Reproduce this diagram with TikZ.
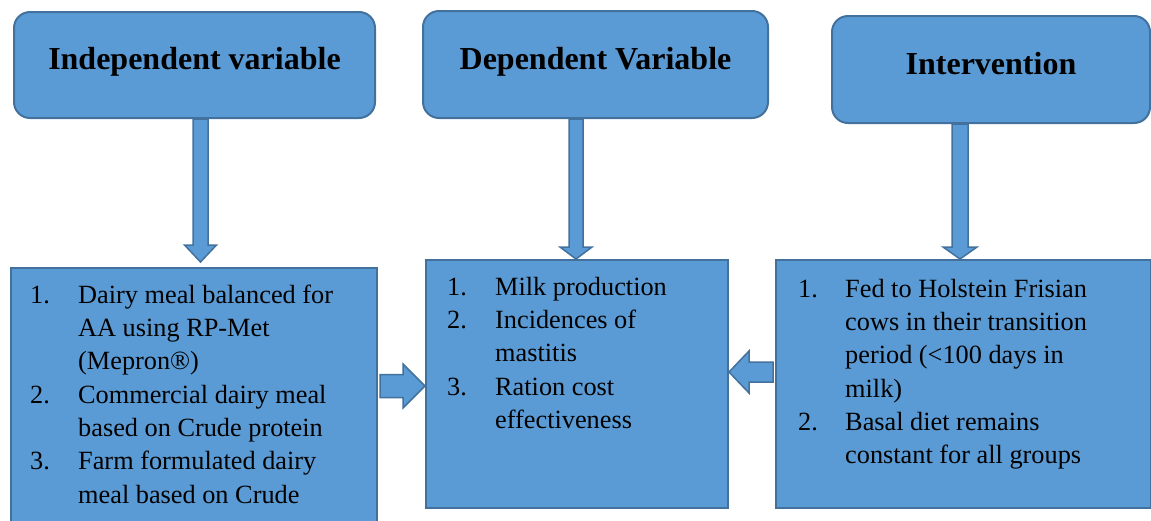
\documentclass[tikz,border=0pt]{standalone}
\usepackage{fontspec}
\setmainfont{Liberation Serif}
\usetikzlibrary{positioning,calc}

\definecolor{boxfill}{HTML}{5B9BD5}
\definecolor{boxline}{HTML}{41719C}
\newcommand{\numw}{48pt}

% vertical block arrow: from, to, shaft half width, head half width, head length
\newcommand{\vblock}[5]{%
  \draw[blockarrow] let \p1=#1, \p2=#2 in
    (\x1-#3,\y1) -- (\x1-#3,\y2+#5) -- (\x1-#4,\y2+#5) -- (\x1,\y2)
    -- (\x1+#4,\y2+#5) -- (\x1+#3,\y2+#5) -- (\x1+#3,\y1) -- cycle;}

% horizontal block arrow: from, to, shaft half width, head half width, head length
\newcommand{\hblock}[5]{%
  \draw[blockarrow] let \p1=#1, \p2=#2, \n1={sign(\x2-\x1)*#5} in
    (\x1,\y1-#3) -- ({\x2-\n1},\y1-#3) -- ({\x2-\n1},\y1-#4) -- (\x2,\y1)
    -- ({\x2-\n1},\y1+#4) -- ({\x2-\n1},\y1+#3) -- (\x1,\y1+#3) -- cycle;}

\begin{document}
\begin{tikzpicture}[
    x=1pt, y=-1pt,
    head/.style={draw=boxline, fill=boxfill, line width=2pt, rounded corners=16pt,
        font=\bfseries\fontsize{32pt}{38pt}\selectfont,
        text height=0.92em, text depth=0em},
    listbox/.style={draw=boxline, fill=boxfill, line width=2pt, anchor=north west},
    itemtext/.style={inner sep=0pt, anchor=north west, align=left,
        font=\fontsize{26.3pt}{33.3pt}\selectfont},
    blockarrow/.style={draw=boxline, fill=boxfill, line width=1.5pt, line join=miter},
]

\useasboundingbox (0,0) rectangle (1151,520);
\clip (0,0) rectangle (1151,520);

% Headings
\node[head, minimum width=361pt, minimum height=106pt] (ind) at (194.5,65) {Independent variable};
\node[head, minimum width=345pt, minimum height=107pt] (dep) at (595.5,64.5) {Dependent Variable};
\node[head, minimum width=318pt, minimum height=107pt] (intv) at (991,69.5) {Intervention};

% List boxes
\node[listbox, minimum width=366pt, minimum height=275pt] (indl) at (10,267) {};
\node[listbox, minimum width=302pt, minimum height=248pt] (depl) at (425,259) {};
\node[listbox, minimum width=375pt, minimum height=248pt] (intl) at (775,259) {};

% List texts
\node[itemtext, below right=12.7pt and 20pt of indl.north west] (indtxt) {%
\begin{tabular}{@{}p{\numw}@{}l@{}}
1. & Dairy meal balanced for\\
   & AA using RP-Met\\
   & (Mepron®)\\
2. & Commercial dairy meal\\
   & based on Crude protein\\
3. & Farm formulated dairy\\
   & meal based on Crude
\end{tabular}};
\node[itemtext, below right=12.7pt and 22pt of depl.north west] (deptxt) {%
\begin{tabular}{@{}p{\numw}@{}l@{}}
1. & Milk production\\
2. & Incidences of\\
   & mastitis\\
3. & Ration cost\\
   & effectiveness
\end{tabular}};
\node[itemtext, below right=14.7pt and 23pt of intl.north west] (inttxt) {%
\begin{tabular}{@{}p{47pt}@{}l@{}}
1. & Fed to Holstein Frisian\\
   & cows in their transition\\
   & period (<100 days in\\
   & milk)\\
2. & Basal diet remains\\
   & constant for all groups
\end{tabular}};

% Arrows
\vblock{($(ind.south)+(6,0)$)}{($(indl.north)+(0,-5)$)}{7.5pt}{16pt}{17pt}
\vblock{($(dep.south)+(-19.5,0)$)}{(depl.north)}{7pt}{16pt}{12pt}
\vblock{($(intv.south)+(-31,0)$)}{(intl.north)}{8pt}{17pt}{12pt}
\hblock{($(indl.north east)+(2,119)$)}{(depl.west)}{11.5pt}{22pt}{22pt}
\hblock{($(intl.north west)+(-2,113)$)}{(depl.east)}{10pt}{21pt}{20pt}

\end{tikzpicture}
\end{document}
